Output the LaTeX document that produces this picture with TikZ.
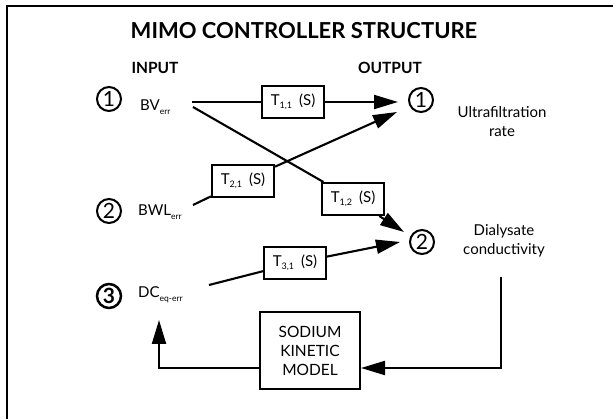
\documentclass[tikz,border=0pt]{standalone}
\usepackage{fontspec}
\setmainfont{Lato}
\usetikzlibrary{arrows.meta}
\newcommand{\sbs}[1]{\raisebox{-4pt}{\fontsize{8.5}{9}\selectfont #1}}
\newcommand{\tlab}[1]{T\raisebox{-3.5pt}{\fontsize{9}{9}\selectfont #1}\hspace{7pt}(S)}
\begin{document}
\begin{tikzpicture}[x=1pt,y=-1pt,
  ln/.style={line width=2.1pt},
  arr/.style={line width=2.1pt,-{Triangle[length=24pt,width=14pt]}},
  tbox/.style={draw,line width=2pt,fill=white,minimum width=62pt,minimum height=32pt,inner sep=0pt,font=\fontsize{15}{18}\selectfont},
  num/.style={draw,circle,line width=2pt,minimum size=24pt,inner sep=0pt,font=\fontsize{21}{21}\selectfont},
  lbl/.style={font=\fontsize{15}{19}\selectfont,align=center,inner sep=0pt},
  hdr/.style={font=\bfseries\fontsize{15.5}{18}\selectfont,inner sep=0pt}]
\useasboundingbox (0,0) rectangle (613,419);
\draw[line width=2pt] (613,6) -- (7,6) -- (7,419);
% headings
\node[hdr,font=\bfseries\fontsize{22}{24}\selectfont] (title) at (304,31) {MIMO CONTROLLER STRUCTURE};
\node[hdr] (input) at (155,68) {INPUT};
\node[hdr] (output) at (390,68) {OUTPUT};
% numbered circles
\node[num] (i1) at (109,99) {1};
\node[num] (i2) at (109,211) {2};
\node[num,line width=2.5pt,font=\bfseries\fontsize{21}{21}\selectfont] (i3) at (109,296) {3};
\node[num] (o1) at (421,100) {1};
\node[num] (o2) at (422,242) {2};
% labels
\node[lbl,anchor=base west] (bv) at (140,111) {BV\sbs{err}};
\node[lbl,anchor=base west] (bwl) at (138,216) {BWL\sbs{err}};
\node[lbl,anchor=base west] (dc) at (138,298) {DC\sbs{eq-err}};
\node[lbl] (uf) at (502,122) {Ultrafiltration\\rate};
\node[lbl] (dcond) at (504,241) {Dialysate\\conductivity};
% transfer boxes
\node[tbox] (T11) at (293,102) {\tlab{1,1}};
\node[tbox] (T21) at (243,181) {\tlab{2,1}};
\node[tbox] (T12) at (353,199) {\tlab{1,2}};
\node[tbox] (T31) at (295,263) {\tlab{3,1}};
\node[tbox,minimum width=100pt,minimum height=77pt,align=center,font=\fontsize{15.5}{19}\selectfont] (skm) at (310,350.5) {SODIUM\\KINETIC\\MODEL};
% connector ends
\coordinate (bvA) at (192,102);
\coordinate (bvB) at (193,107);
\coordinate (bwlA) at (193,205);
\coordinate (dcA) at (209,285);
\coordinate (o1a) at (398,102);
\coordinate (o1b) at (397,112);
\coordinate (o2a) at (404,232);
\coordinate (o2b) at (400,242);
\coordinate (fbA) at (501,277);
\coordinate (fbE) at (159,320);
% connectors
\draw[ln] (bvA) -- (T11);
\draw[arr] (T11) -- (o1a);
\draw[ln] (bvB) -- (T12);
\draw[arr] (T12) -- (o2a);
\draw[ln] (bwlA) -- (T21);
\draw[arr] (T21) -- (o1b);
\draw[ln] (dcA) -- (T31);
\draw[arr] (T31) -- (o2b);
\draw[arr] (fbA) |- ([yshift=-17.5pt]skm.east);
\draw[arr] ([yshift=-17.5pt]skm.west) -| (fbE);
\end{tikzpicture}
\end{document}
